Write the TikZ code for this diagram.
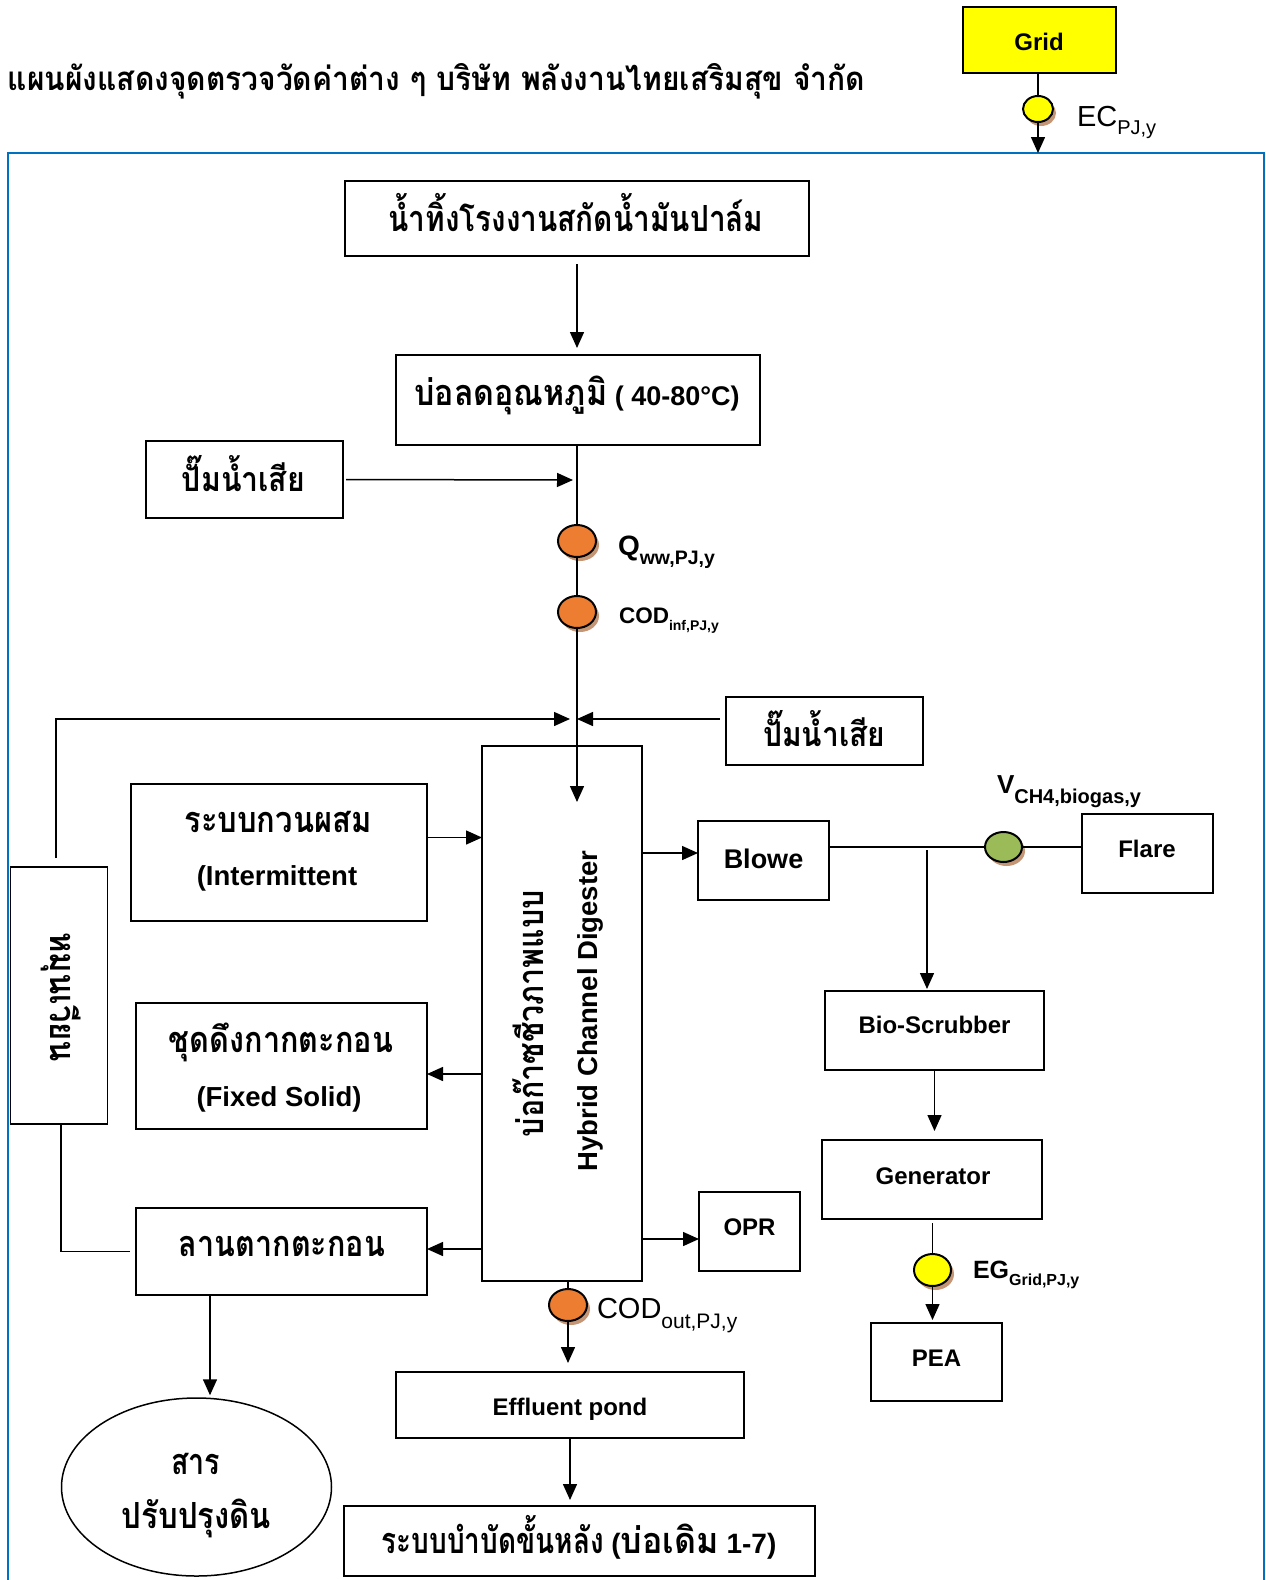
\documentclass[tikz,border=0pt]{standalone}
\usepackage{fontspec}
\usepackage{graphicx}
\setmainfont{Liberation Sans}
\newfontfamily\thaifont[Script=Thai]{Loma}
\usetikzlibrary{arrows.meta,shapes.geometric,shadows}
\definecolor{frameblue}{RGB}{0,112,192}
\definecolor{mOrange}{RGB}{237,125,49}
\definecolor{mGreen}{RGB}{155,187,89}
\definecolor{mYellow}{RGB}{255,255,0}
\definecolor{shadowc}{RGB}{196,150,118}
\newcommand\thw[3]{\resizebox{#2pt}{\height}{\thaifont\bfseries\fontsize{#1pt}{#1pt}\selectfont #3}}
\newcommand\fsz[1]{\fontsize{#1pt}{#1pt}\selectfont}
\begin{document}
\begin{tikzpicture}[x=1pt,y=-1pt,
  box/.style={draw=black, line width=1.5pt, rectangle, inner sep=0pt, outer sep=0pt},
  ln/.style={line width=1.5pt},
  arr/.style={line width=1.5pt, -{Triangle[length=16pt,width=14pt]}},
  meter/.style={ellipse, draw=black, line width=2pt, inner sep=0pt, outer sep=0pt,
     drop shadow={shadow xshift=3pt, shadow yshift=-4pt, fill=shadowc, opacity=1}},
  txt/.style={anchor=base, inner sep=0pt, outer sep=0pt, font=\bfseries},
  lbl/.style={anchor=base west, inner sep=0pt, outer sep=0pt}]
\clip (0,0) rectangle (1266,1580);
\fill[white] (0,0) rectangle (1266,1580);
% frame
\draw[line width=2.5pt, draw=frameblue] (8,153) rectangle (1264,1620);
% title
\node[txt] (title) at (436.5,90) {\thw{33}{857}{แผนผังแสดงจุดตรวจวัดค่าต่าง ๆ บริษัท พลังงานไทยเสริมสุข จำกัด}};
% boxes
\node[box, fill=mYellow, minimum width=153pt, minimum height=66pt] (grid) at (1039.5,40) {};
\node[box, minimum width=464pt, minimum height=75pt] (src) at (577,218.5) {};
\node[box, minimum width=364pt, minimum height=90pt] (cool) at (578,400) {};
\node[box, minimum width=197pt, minimum height=77pt] (p1) at (244.5,479.5) {};
\node[box, minimum width=197pt, minimum height=68pt] (p2) at (824.5,731) {};
\node[box, minimum width=296pt, minimum height=137pt] (mix) at (279,852.5) {};
\node[box, minimum width=97pt, minimum height=257pt] (rec) at (59,995.5) {};
\node[box, minimum width=291pt, minimum height=126pt] (sol) at (281.5,1066) {};
\node[box, minimum width=291pt, minimum height=87pt] (dry) at (281.5,1251.5) {};
\node[box, minimum width=160pt, minimum height=535pt] (dig) at (562,1013.5) {};
\node[box, minimum width=131pt, minimum height=79pt] (blowe) at (763.5,860.5) {};
\node[box, minimum width=131pt, minimum height=79pt] (flare) at (1147.5,853.5) {};
\node[box, minimum width=219pt, minimum height=79pt] (bio) at (934.5,1030.5) {};
\node[box, minimum width=220pt, minimum height=79pt] (gen) at (932,1179.5) {};
\node[box, minimum width=101pt, minimum height=79pt] (opr) at (749.5,1231.5) {};
\node[box, minimum width=131pt, minimum height=78pt] (pea) at (936.5,1362) {};
\node[box, minimum width=348pt, minimum height=66pt] (eff) at (570,1405) {};
\node[box, line width=2.5pt, minimum width=471pt, minimum height=70pt] (final) at (579.5,1541) {};
\node[ellipse, draw=black, line width=1.5pt, minimum width=270pt, minimum height=178pt, inner sep=0pt] (soil) at (196.5,1487) {};
% meters
\node[meter, fill=mYellow, minimum width=30pt, minimum height=26pt] (ec) at (1038,109) {};
\node[meter, fill=mOrange, minimum width=38pt, minimum height=32pt] (q) at (577,541) {};
\node[meter, fill=mOrange, minimum width=38pt, minimum height=32pt] (ci) at (577,612) {};
\node[meter, fill=mGreen, minimum width=37pt, minimum height=30pt] (gm) at (1003.5,847) {};
\node[meter, fill=mYellow, minimum width=37pt, minimum height=32pt] (yc) at (932.5,1270) {};
\node[meter, fill=mOrange, minimum width=38pt, minimum height=32pt] (co) at (568,1305) {};
% box texts
\node[txt] (tgrid) at (1039,50) {\fsz{24}Grid};
\node[txt] (tsrc) at (576,231) {\thw{36}{375}{น้ำทิ้งโรงงานสกัดน้ำมันปาล์ม}};
\node[txt] (tcool) at (577,405) {\thw{36}{193}{บ่อลดอุณหภูมิ}\fsz{27} ( 40-80°C)};
\node[txt] (tp1) at (243.5,491) {\thw{34}{123}{ปั๊มน้ำเสีย}};
\node[txt] (tp2) at (824,746) {\thw{34}{122}{ปั๊มน้ำเสีย}};
\node[txt] (tmix1) at (278,832) {\thw{36}{187}{ระบบกวนผสม}};
\node[txt] (tmix2) at (277,885) {\fsz{27.5}(Intermittent};
\node[txt] (tsol1) at (281,1052) {\thw{36}{224}{ชุดดึงกากตะกอน}};
\node[txt] (tsol2) at (279,1106) {\fsz{27.5}(Fixed Solid)};
\node[txt] (tdry) at (282,1256) {\thw{36}{206}{ลานตากตะกอน}};
\node[txt, rotate=-90] (trec) at (50,997) {\thw{36}{130}{หมุนเวียน}};
\node[txt, rotate=90] (tdig1) at (543,1013.5) {\thw{36}{247}{บ่อก๊าซชีวภาพแบบ}};
\node[txt, rotate=90] (tdig2) at (597,1011) {\fsz{27.5}Hybrid Channel Digester};
\node[txt] (tblowe) at (763.5,868) {\fsz{27}Blowe};
\node[txt] (tflare) at (1147,857) {\fsz{24}Flare};
\node[txt] (tbio) at (934.5,1033) {\fsz{24}Bio-Scrubber};
\node[txt] (tgen) at (933,1184) {\fsz{24}Generator};
\node[txt] (topr) at (749.5,1235) {\fsz{24}OPR};
\node[txt] (tpea) at (936.5,1366) {\fsz{24}PEA};
\node[txt] (teff) at (570,1415) {\fsz{24}Effluent pond};
\node[txt] (tsoil1) at (195.5,1474) {\thw{36}{49}{สาร}};
\node[txt] (tsoil2) at (196.5,1528) {\thw{36}{149}{ปรับปรุงดิน}};
\node[txt] (tfin) at (579,1553) {\thw{36}{222}{ระบบบำบัดขั้นหลัง}\fsz{28} (\thw{36}{98}{บ่อเดิม}\fsz{28} 1-7)};
% meter labels
\node[lbl] (lec) at (1077,126) {\fsz{29}EC\raisebox{-8pt}{\fsz{20}PJ,y}};
\node[lbl, font=\bfseries] (lq) at (618,555) {\fsz{28}Q\raisebox{-9pt}{\fsz{19.5}ww,PJ,y}};
\node[lbl, font=\bfseries] (lci) at (619,623) {\fsz{22.5}COD\raisebox{-7pt}{\fsz{14}inf,PJ,y}};
\node[lbl, font=\bfseries] (lv) at (997,793) {\fsz{26}V\raisebox{-10pt}{\fsz{20}CH4,biogas,y}};
\node[lbl, font=\bfseries] (leg) at (973,1278) {\fsz{25}EG\raisebox{-7pt}{\fsz{16}Grid,PJ,y}};
\node[lbl] (lco) at (597,1318) {\fsz{29}COD\raisebox{-10pt}{\fsz{21}out,PJ,y}};
% coordinates
\coordinate (ftop) at (1038,153);
\coordinate (dtip) at (577,802);
\coordinate (p1tip) at (573,480);
\coordinate (ltip) at (570,719);
\coordinate (rtip) at (577,719);
\coordinate (jn) at (927,850);
% connectors
\draw[ln] (ec.north |- grid.south) -- (ec.north);
\draw[arr] (ec.south) -- (ftop);
\draw[arr, shorten <=8pt, shorten >=7pt] (src.south) -- (src.south |- cool.north);
\draw[ln] (q.north |- cool.south) -- (q.north);
\draw[ln] (q.south) -- (ci.north);
\draw[arr] (ci.south) -- (dtip);
\draw[arr, shorten <=3pt] (p1.east) -- (p1tip);
\draw[arr] ([xshift=-3pt,yshift=9pt]rec.north) |- (ltip);
\draw[arr, shorten <=6pt] (p2.west |- rtip) -- (rtip);
\draw[arr] ([yshift=15pt]mix.east) -- ([yshift=15pt]mix.east -| dig.west);
\draw[arr] ([yshift=-8pt]sol.east -| dig.west) -- ([yshift=-8pt]sol.east);
\draw[arr] ([yshift=2.5pt]dry.east -| dig.west) -- ([yshift=2.5pt]dry.east);
\draw[ln] ([xshift=2pt]rec.south) |- ([xshift=-6pt]dry.west);
\draw[arr, shorten >=2pt] ([xshift=-71.5pt]dry.south) -- ([xshift=-71.5pt]dry.south |- soil.north);
\draw[arr] ([yshift=7.5pt]blowe.west -| dig.east) -- ([yshift=7.5pt]blowe.west);
\draw[ln] ([yshift=13.5pt]blowe.east) -- (gm.west);
\draw[ln] (gm.east) -- (gm.east -| flare.west);
\draw[arr, shorten >=2pt] (jn) -- (jn |- bio.north);
\draw[arr, shorten <=1pt, shorten >=9pt] (bio.south) -- (bio.south |- gen.north);
\draw[ln, shorten <=4pt] (yc.north |- gen.south) -- (yc.north);
\draw[arr, shorten >=3pt] (yc.south) -- (yc.south |- pea.north);
\draw[arr] ([yshift=-7.5pt]opr.west -| dig.east) -- ([yshift=-7.5pt]opr.west);
\draw[ln] (co.north |- dig.south) -- (co.north);
\draw[arr, shorten >=9pt] (co.south) -- (co.south |- eff.north);
\draw[arr, shorten >=6pt] (eff.south) -- (eff.south |- final.north);
\end{tikzpicture}
\end{document}
